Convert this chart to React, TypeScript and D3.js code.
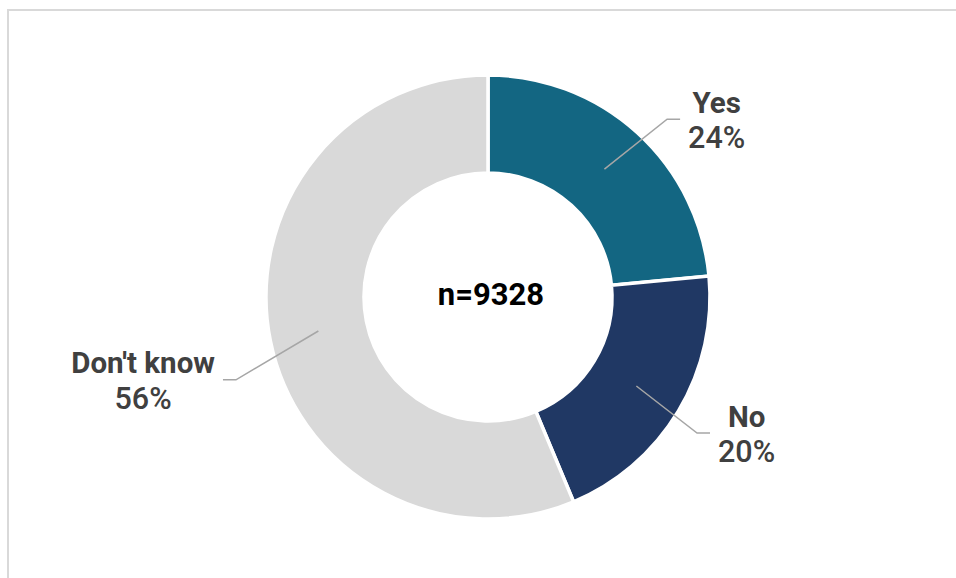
import React, { useEffect, useRef } from "react";
import * as d3 from "d3";

const categories = ["Yes", "No", "Don't know"];
const shares = [23.5, 20.2, 56.3];
const percentLabels = ["24%", "20%", "56%"];
const colors = ["#136682", "#203864", "#d9d9d9"];
const centerLabel = "n=9328";

// label elbow placement (polar, degrees clockwise from top), layout only
const elbowAngles = [45.2, 123.05, 251.8];
const elbowRadii = [252.4, 249.4, 265.3];

const W = 956;
const H = 578;

export default function App() {
  const ref = useRef<SVGSVGElement | null>(null);

  useEffect(() => {
    const svg = d3.select(ref.current);
    svg.selectAll("*").remove();

    // frame
    svg
      .append("rect")
      .attr("x", 8)
      .attr("y", 10)
      .attr("width", W + 20)
      .attr("height", H + 20)
      .attr("fill", "none")
      .attr("stroke", "#d9d9d9")
      .attr("stroke-width", 2);

    const cx = 488;
    const cy = 297;
    const outerR = 222;
    const innerR = 124;

    const data = categories.map((c, i) => ({
      cat: c,
      value: shares[i],
      label: percentLabels[i],
      color: colors[i],
    }));
    const pie = d3
      .pie<any>()
      .value((d) => d.value)
      .sort(null);
    const arcs = pie(data);
    const arc = d3.arc<any>().innerRadius(innerR).outerRadius(outerR);

    const g = svg.append("g").attr("transform", `translate(${cx},${cy})`);
    g.selectAll("path.slice")
      .data(arcs)
      .join("path")
      .attr("class", "slice")
      .attr("d", arc as any)
      .attr("fill", (d: any) => d.data.color)
      .attr("stroke", "#ffffff")
      .attr("stroke-width", 3.5)
      .attr("stroke-linejoin", "miter");

    const font = "Roboto, 'Liberation Sans', Arial, sans-serif";

    arcs.forEach((a: any, i: number) => {
      const [sx, sy] = arc.centroid(a);
      const ang = (elbowAngles[i] * Math.PI) / 180;
      const ex = Math.sin(ang) * elbowRadii[i];
      const ey = -Math.cos(ang) * elbowRadii[i];
      const right = ex > 0;
      const hx = ex + (right ? 13 : -13);
      g.append("path")
        .attr("d", `M${sx},${sy}L${ex},${ey}L${hx},${ey}`)
        .attr("fill", "none")
        .attr("stroke", "#a6a6a6")
        .attr("stroke-width", 1.5);

      const t = g.append("g");
      const t1 = t
        .append("text")
        .attr("y", ey - 6.5)
        .attr("text-anchor", "middle")
        .attr("font-family", font)
        .attr("font-weight", 700)
        .attr("font-size", 29.5)
        .attr("fill", "#404040")
        .text(a.data.cat);
      const t2 = t
        .append("text")
        .attr("y", ey + 29)
        .attr("text-anchor", "middle")
        .attr("font-family", font)
        .attr("font-weight", 500)
        .attr("font-size", 30.5)
        .attr("fill", "#404040")
        .text(a.data.label);
      const w1 = (t1.node() as SVGTextElement).getComputedTextLength();
      const w2 = (t2.node() as SVGTextElement).getComputedTextLength();
      const mw = Math.max(w1, w2);
      const tx = right ? hx + 8 + mw / 2 : hx - 8 - mw / 2;
      t1.attr("x", tx);
      t2.attr("x", tx);
    });

    g.append("text")
      .attr("x", 3)
      .attr("y", 8)
      .attr("text-anchor", "middle")
      .attr("font-family", font)
      .attr("font-weight", 700)
      .attr("font-size", 31)
      .attr("fill", "#000000")
      .text(centerLabel);
  }, []);

  return (
    <svg
      ref={ref}
      width={W}
      height={H}
      style={{ position: "absolute", left: 0, top: 0, background: "#ffffff" }}
    />
  );
}
